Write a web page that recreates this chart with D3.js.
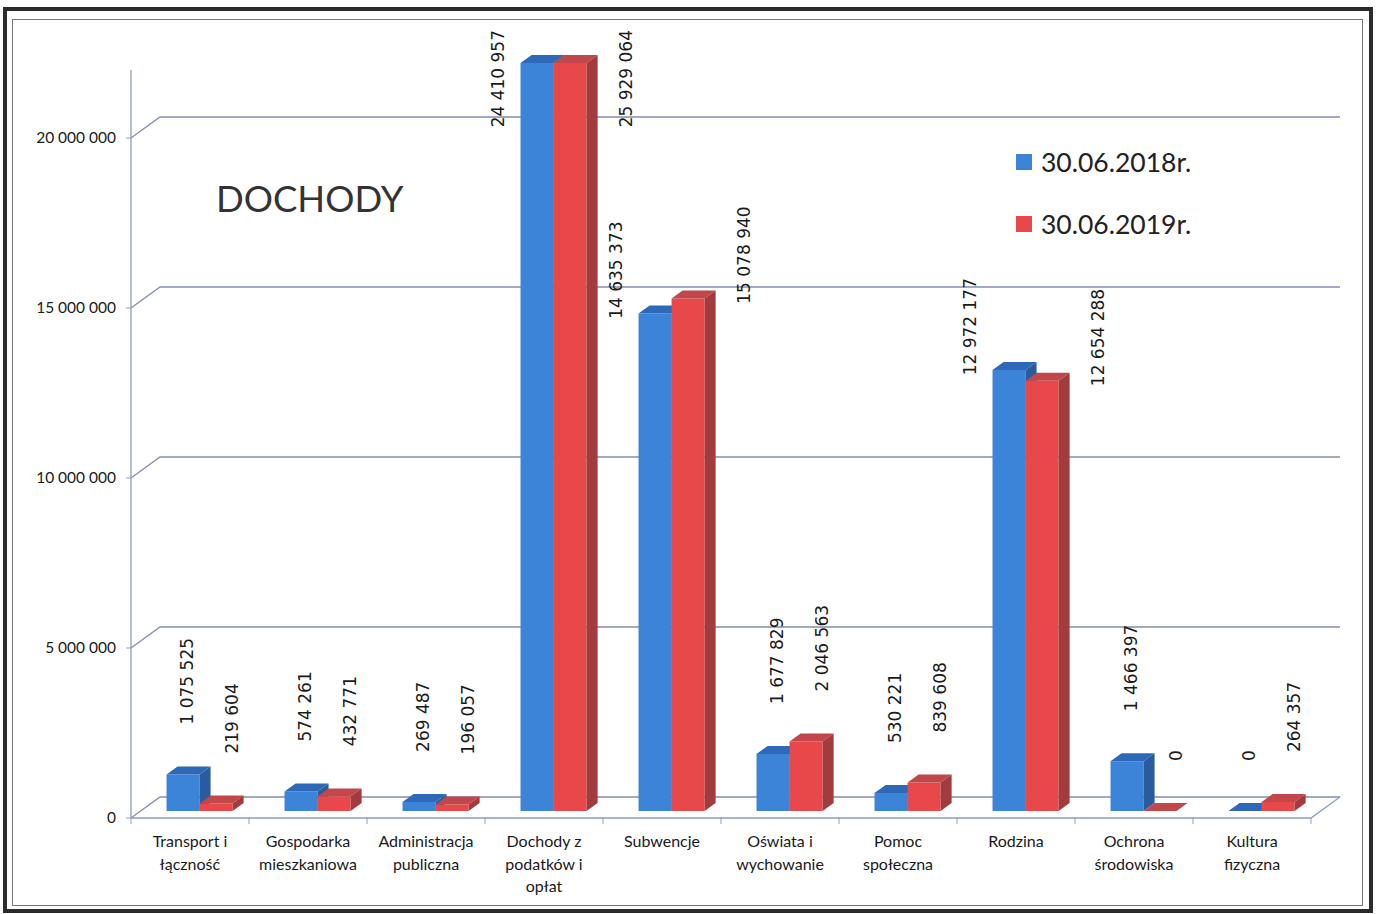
<!DOCTYPE html>
<html>
<head>
<meta charset="utf-8">
<script src="https://cdn.jsdelivr.net/npm/d3@7"></script>
<style>
  body { margin: 0; background: #fff; }
  svg { display: block; }
  .tick-label { font-family: Lato, sans-serif; font-size: 15.5px; fill: #1a1a1a; }
  .cat-label { font-family: Lato, sans-serif; font-size: 16px; fill: #1a1a1a; }
  .value-label { font-family: "DejaVu Sans", sans-serif; font-size: 17px; fill: #1a1a1a; }
  .title { font-family: Lato, sans-serif; font-size: 36.5px; fill: #333; }
  .legend-label { font-family: Lato, sans-serif; font-size: 26.5px; fill: #222; }
</style>
</head>
<body>
<div id="wrapper"></div>
<script>
// 1. Data

const categories = [
    "Transport i łączność",
    "Gospodarka mieszkaniowa",
    "Administracja publiczna",
    "Dochody z podatków i opłat",
    "Subwencje",
    "Oświata i wychowanie",
    "Pomoc społeczna",
    "Rodzina",
    "Ochrona środowiska",
    "Kultura fizyczna",
]
const categoryLabels = [
    ["Transport i", "łączność"],
    ["Gospodarka", "mieszkaniowa"],
    ["Administracja", "publiczna"],
    ["Dochody z", "podatków i", "opłat"],
    ["Subwencje"],
    ["Oświata i", "wychowanie"],
    ["Pomoc", "społeczna"],
    ["Rodzina"],
    ["Ochrona", "środowiska"],
    ["Kultura", "fizyczna"],
]
const seriesNames = ["30.06.2018r.", "30.06.2019r."]
const values2018 = [1075525, 574261, 269487, 24410957, 14635373, 1677829, 530221, 12972177, 1466397, 0]
const values2019 = [219604, 432771, 196057, 25929064, 15078940, 2046563, 839608, 12654288, 0, 264357]
const yTicks = [0, 5000000, 10000000, 15000000, 20000000]
const yMax = 22000000

// 2. Dimensions

const width = 1381
const height = 914
const plot = { left: 131, right: 1311, bottom: 818 }
const depth = [29, -21]          // front axis -> back wall
const barFront = 0.33             // depth fraction of bar front face
const barBack = 0.71              // depth fraction of bar back face

const colors = [
    { front: "#3b84d8", top: "#2d69b8", side: "#2a5b9c" },
    { front: "#e9484b", top: "#c2474a", side: "#a23b3e" },
]

// 3. Canvas

const svg = d3.select("#wrapper")
    .append("svg")
    .attr("width", width)
    .attr("height", height)

// frame
svg.append("rect")
    .attr("x", 5).attr("y", 9)
    .attr("width", 1366).attr("height", 902)
    .attr("fill", "#fff")
    .attr("stroke", "#2b2b2b")
    .attr("stroke-width", 4)
svg.append("rect")
    .attr("x", 12.5).attr("y", 19.5)
    .attr("width", 1350).attr("height", 886)
    .attr("fill", "none")
    .attr("stroke", "#777")
    .attr("stroke-width", 1)

// 4. Scales

const xScale = d3.scaleBand()
    .domain(categories)
    .range([plot.left, plot.right])
    .paddingInner(0.44)
    .paddingOuter(0.22)

const xSeries = d3.scaleBand()
    .domain(seriesNames)
    .range([0, xScale.bandwidth()])

const yScale = d3.scaleLinear()
    .domain([0, yMax])
    .range([plot.bottom, plot.bottom - 170 * yMax / 5000000])

const fmt = d3.formatLocale({ decimal: ",", thousands: " ", grouping: [3], currency: ["", ""] }).format(",")

const proj = (x, v, d) => [x + depth[0] * d, yScale(v) + depth[1] * d]
const poly = pts => "M" + pts.map(p => p.join(",")).join("L") + "Z"

// 5. Axes, walls and gridlines

const gridColor = "#858db2"

svg.append("g")
    .selectAll("path")
    .data(yTicks)
    .join("path")
    .attr("d", d => {
        const y = yScale(d)
        return `M${plot.left},${y}L${plot.left + depth[0]},${y + depth[1]}L${plot.right + depth[0]},${y + depth[1]}`
    })
    .attr("fill", "none")
    .attr("stroke", gridColor)
    .attr("stroke-width", 1.3)

// y axis
svg.append("line")
    .attr("x1", plot.left).attr("x2", plot.left)
    .attr("y1", yScale(0)).attr("y2", yScale(yMax))
    .attr("stroke", "#8c9cc6")
    .attr("stroke-width", 1.3)

svg.append("g")
    .selectAll("line")
    .data(yTicks)
    .join("line")
    .attr("x1", plot.left - 5).attr("x2", plot.left)
    .attr("y1", d => yScale(d)).attr("y2", d => yScale(d))
    .attr("stroke", "#8c9cc6")

svg.append("g")
    .selectAll("text")
    .data(yTicks)
    .join("text")
    .attr("class", "tick-label")
    .attr("x", plot.left - 15)
    .attr("y", d => yScale(d))
    .attr("dy", "0.35em")
    .attr("text-anchor", "end")
    .text(d => fmt(d))

// floor front edge and right edge
svg.append("path")
    .attr("d", `M${plot.left},${plot.bottom}L${plot.right},${plot.bottom}L${plot.right + depth[0]},${plot.bottom + depth[1]}`)
    .attr("fill", "none")
    .attr("stroke", "#8c9cc6")
    .attr("stroke-width", 1.3)

const step = xScale.step()
svg.append("g")
    .selectAll("line")
    .data(d3.range(categories.length + 1))
    .join("line")
    .attr("x1", i => plot.left + i * step).attr("x2", i => plot.left + i * step)
    .attr("y1", plot.bottom).attr("y2", plot.bottom + 6)
    .attr("stroke", "#8c9cc6")

// category labels
svg.append("g")
    .selectAll("text")
    .data(categories)
    .join("text")
    .attr("class", "cat-label")
    .attr("text-anchor", "middle")
    .attr("transform", d => `translate(${xScale(d) + xScale.bandwidth() / 2},${plot.bottom + 29})`)
    .selectAll("tspan")
    .data((d, i) => categoryLabels[i])
    .join("tspan")
    .attr("x", 0)
    .attr("y", (d, i) => i * 22.5)
    .text(d => d)

// 6. Bars

const bars = []
categories.forEach((c, i) => {
    [values2018, values2019].forEach((vals, s) => {
        bars.push({ category: c, series: s, value: vals[i] })
    })
})

const barGroups = svg.append("g")
    .selectAll("g")
    .data(bars)
    .join("g")

barGroups.each(function (d) {
    const g = d3.select(this)
    const x = xScale(d.category) + xSeries(seriesNames[d.series])
    const w = xSeries.bandwidth()
    const v = Math.min(d.value, yMax)
    const c = colors[d.series]
    g.append("path")
        .attr("d", poly([proj(x, 0, barFront), proj(x + w, 0, barFront), proj(x + w, v, barFront), proj(x, v, barFront)]))
        .attr("fill", c.front)
    g.append("path")
        .attr("d", poly([proj(x, v, barFront), proj(x + w, v, barFront), proj(x + w, v, barBack), proj(x, v, barBack)]))
        .attr("fill", c.top)
    g.append("path")
        .attr("d", poly([proj(x + w, 0, barFront), proj(x + w, v, barFront), proj(x + w, v, barBack), proj(x + w, 0, barBack)]))
        .attr("fill", c.side)
})

// 7. Value labels

svg.append("g")
    .selectAll("text")
    .data(bars)
    .join("text")
    .attr("class", "value-label")
    .attr("dy", "0.35em")
    .each(function (d) {
        const x = xScale(d.category) + xSeries(seriesNames[d.series])
        const w = xSeries.bandwidth()
        const v = Math.min(d.value, yMax)
        const [fx, fy] = proj(x, v, barFront)
        const t = d3.select(this)
        if (d.value < 10000000) {
            const nudge = d.series === 0 ? 4 : 16
            t.attr("text-anchor", "start")
                .attr("transform", `translate(${fx + w / 2 + nudge},${fy - 50}) rotate(-90)`)
        } else {
            const lx = d.series === 0 ? fx - 22 : proj(x + w, v, barBack)[0] + 28
            t.attr("text-anchor", "end")
                .attr("transform", `translate(${lx},${Math.max(fy - 92, 30)}) rotate(-90)`)
        }
    })
    .text(d => fmt(d.value))

// 8. Title and legend

svg.append("text")
    .attr("class", "title")
    .attr("x", 216)
    .attr("y", 212)
    .text("DOCHODY")

const legend = svg.append("g")
    .selectAll("g")
    .data(seriesNames)
    .join("g")
    .attr("transform", (d, i) => `translate(1016,${154 + i * 62})`)

legend.append("rect")
    .attr("width", 16)
    .attr("height", 16)
    .attr("fill", (d, i) => colors[i].front)

legend.append("text")
    .attr("class", "legend-label")
    .attr("x", 25)
    .attr("y", 8)
    .attr("dy", "0.36em")
    .text(d => d)
</script>
</body>
</html>
